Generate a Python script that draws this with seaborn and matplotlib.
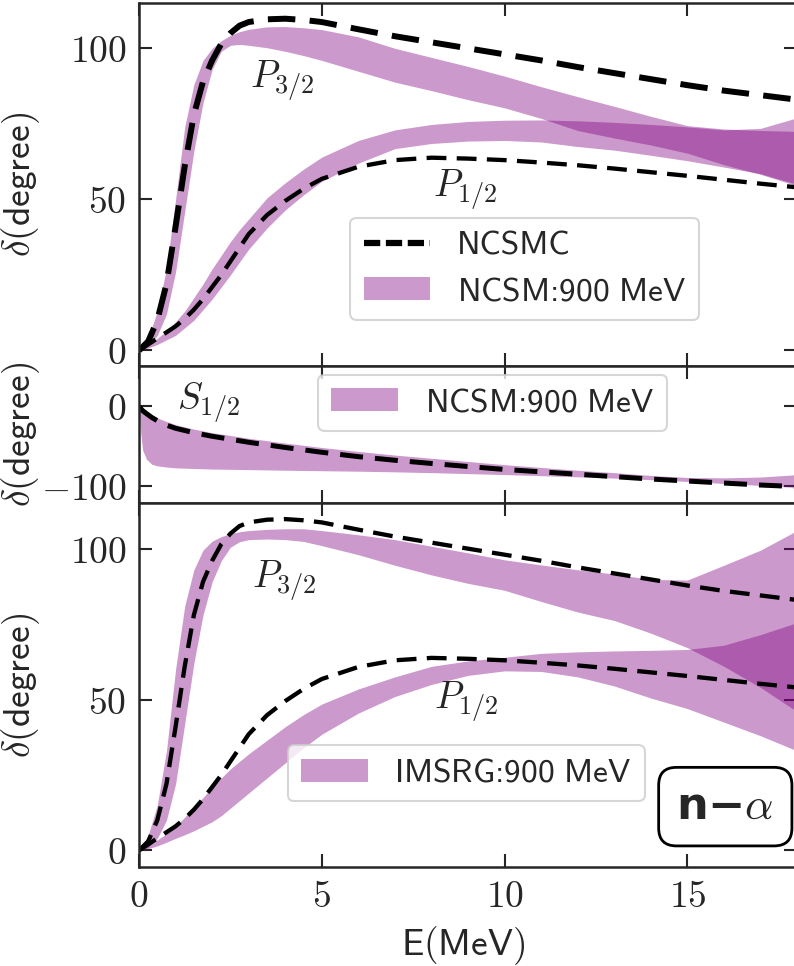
import matplotlib
matplotlib.use("Agg")
import matplotlib.pyplot as plt
import seaborn as sns
from matplotlib.gridspec import GridSpec
from matplotlib.lines import Line2D
from matplotlib.patches import Patch
from matplotlib.ticker import FuncFormatter

# energy grid (MeV) for the P-wave curves
E_p = [0, 0.25, 0.5, 0.75, 1.0, 1.25, 1.5, 1.75, 2.0, 2.25, 2.5, 2.75, 3.0, 3.5, 4, 4.5,
       5, 6, 7, 8, 9, 10, 11, 12, 13, 14, 15, 16, 17, 18]

# NCSMC phase shifts (dashed)
ncsmc_p32 = [0, 3, 10, 22, 41, 61, 78, 89, 96, 101.5, 105, 107.5, 108.7, 109.6, 109.8, 109.4,
             108.7, 106.3, 104, 102, 100, 98, 96, 93.8, 91.8, 89.8, 87.8, 86, 84.5, 83]
ncsmc_p12 = [0, 2, 4, 6, 8, 10.5, 13.5, 17, 21, 25, 29.5, 34, 38.5, 44.8, 49.5, 53.5,
             56.8, 60.8, 63, 63.8, 63.5, 63, 62.2, 61.3, 60.2, 59, 57.8, 56.5, 55.2, 54]

# NCSM 900 MeV bands (top panel)
ncsm_p32_hi = [0, 4, 13, 27, 50, 74, 88, 96, 100, 102.5, 104.3, 105.5, 106.3, 107.1, 107.2, 106.8,
               106.2, 103.8, 100, 97, 94, 90.8, 87.3, 84, 80.8, 77.5, 74.4, 73.3, 72.8, 72.5]
ncsm_p32_lo = [0, 1.5, 5, 12, 26, 46, 66, 82, 93, 99, 101, 101.3, 101, 100.2, 99, 97.6,
               96, 92.4, 88.8, 86, 83, 80.3, 76.8, 72.8, 70.3, 68, 65.3, 61.5, 58.3, 54.5]
ncsm_p12_hi = [0, 1.8, 4, 6.5, 9.5, 13, 17.5, 22, 27, 31.5, 36, 40, 43.5, 50.5, 55.5, 60,
               64, 69.5, 73, 74.8, 75.8, 76.2, 76.3, 76, 75.5, 74.8, 74, 73, 73.5, 77]
ncsm_p12_lo = [0, 0.8, 2, 3.5, 5, 7.5, 10, 13.5, 17, 21, 25, 29.3, 33.5, 40.5, 46.5, 51.5,
               56, 62, 66.8, 68.5, 69.3, 69.5, 69, 67.5, 66.3, 64.6, 62.8, 60.7, 58.5, 55]

# IMSRG 900 MeV bands (bottom panel)
imsrg_p32_hi = [0, 5, 15, 33, 60, 81, 93, 99.5, 102.5, 104, 105, 105.6, 106, 106.4, 106.6, 106.6,
                106, 104.6, 103, 100.8, 98.6, 96.3, 94.6, 93, 91.6, 89.8, 89.6, 94.5, 99.5, 106]
imsrg_p32_lo = [0, 1, 4, 10, 22, 42, 62, 78, 89, 96, 100.5, 102.3, 103, 103.2, 103, 102.4,
                101, 98, 94.5, 91.3, 88.5, 86.2, 82.5, 79, 76.2, 72, 67.2, 61, 54, 46]
imsrg_p12_hi = [0, 1.5, 3.5, 5.5, 8, 11, 14.5, 17.5, 21, 24, 27, 29.5, 32, 36.5, 41, 45,
                48.5, 53.5, 57.5, 61, 62.8, 64, 65.3, 65.8, 66.1, 66.3, 66.6, 68, 71.5, 75.5]
imsrg_p12_lo = [0, 0.6, 1.5, 2.7, 4, 5.2, 6.5, 8, 9.5, 11.5, 14, 16.5, 19, 24, 29, 34,
                38.5, 45.5, 51, 55, 58, 59.5, 59.3, 57.5, 54.5, 50.5, 47, 42.5, 38, 33]

# S-wave (middle panel)
E_s = [0, 0.05, 0.1, 0.2, 0.35, 0.5, 0.75, 1, 1.5, 2, 3, 4, 5, 6, 7, 8, 9, 10,
       11, 12, 13, 14, 15, 16, 17, 18]
ncsmc_s12 = [0, -3, -5.5, -9, -14, -18, -23.5, -27.5, -33, -37.5, -45, -51.5, -57.5, -63,
             -67.5, -71.5, -75.3, -79, -82, -85, -88, -91, -93.5, -96, -98.5, -100.5]
ncsm_s12_hi = [0, -2, -4, -7, -11, -14.5, -19, -23, -28.5, -33, -40, -46, -51.5, -56.5,
               -61, -65, -69, -73, -76.5, -80, -83, -86.5, -89, -89.5, -88.5, -85.5]
ncsm_s12_lo = [0, -35, -55, -66, -72.5, -74.5, -76, -77, -77.8, -78.5, -79.2, -80, -80.6, -81.2,
               -82, -83, -84.2, -85.4, -86.8, -88.2, -89.8, -91.8, -94, -96.5, -99, -101.5]

sns.set_style("ticks")
plt.rcParams["font.family"] = ["DejaVu Sans"]
plt.rcParams["mathtext.fontset"] = "cm"

band_kw = dict(color="purple", alpha=0.4, lw=0)
dash = (0, (4.6, 2.4))
fs = 27
leg_prop = {"family": "cmss10", "size": 24}

fig = plt.figure(figsize=(7.94, 9.66), dpi=100)
gs = GridSpec(3, 1, figure=fig, height_ratios=[363, 138, 364], hspace=0,
              left=0.1751, right=1.0038, top=0.9969, bottom=0.1025)
ax1 = fig.add_subplot(gs[0])
ax2 = fig.add_subplot(gs[1], sharex=ax1)
ax3 = fig.add_subplot(gs[2], sharex=ax1)

# top: NCSMC vs NCSM
ax1.fill_between(E_p, ncsm_p32_lo, ncsm_p32_hi, **band_kw)
ax1.fill_between(E_p, ncsm_p12_lo, ncsm_p12_hi, **band_kw)
sns.lineplot(x=E_p, y=ncsmc_p32, ax=ax1, color="black", linewidth=4.3, linestyle=dash, errorbar=None)
sns.lineplot(x=E_p, y=ncsmc_p12, ax=ax1, color="black", linewidth=3.1, linestyle=dash, errorbar=None)
ax1.text(3.04, 87, r"$P_{3/2}$", fontsize=fs, va="baseline")
ax1.text(8.05, 51, r"$P_{1/2}$", fontsize=fs, va="baseline")
h1 = [Line2D([], [], color="black", lw=4.5, ls=(0, (2.6, 0.9))), Patch(**band_kw)]
leg = ax1.legend(h1, ["NCSMC", r"NCSM:900$\ $MeV"], prop=leg_prop,
                 loc="upper left", bbox_to_anchor=(0.321, 0.408), borderaxespad=0)
leg.get_frame().set_linewidth(1.5)

# middle: S-wave
ax2.fill_between(E_s, ncsm_s12_lo, ncsm_s12_hi, **band_kw)
sns.lineplot(x=E_s, y=ncsmc_s12, ax=ax2, color="black", linewidth=3.6, linestyle=dash, errorbar=None)
ax2.text(1.04, -4, r"$S_{1/2}$", fontsize=fs, va="baseline")
leg = ax2.legend([Patch(**band_kw)], [r"NCSM:900$\ $MeV"], prop=leg_prop,
                 loc="upper left", bbox_to_anchor=(0.272, 0.935), borderaxespad=0)
leg.get_frame().set_linewidth(1.5)

# bottom: NCSMC vs IMSRG
ax3.fill_between(E_p, imsrg_p32_lo, imsrg_p32_hi, **band_kw)
ax3.fill_between(E_p, imsrg_p12_lo, imsrg_p12_hi, **band_kw)
sns.lineplot(x=E_p, y=ncsmc_p32, ax=ax3, color="black", linewidth=3.1, linestyle=dash, errorbar=None)
sns.lineplot(x=E_p, y=ncsmc_p12, ax=ax3, color="black", linewidth=3.1, linestyle=dash, errorbar=None)
ax3.text(3.08, 87, r"$P_{3/2}$", fontsize=fs, va="baseline")
ax3.text(8.06, 47, r"$P_{1/2}$", fontsize=fs, va="baseline")
leg = ax3.legend([Patch(**band_kw)], [r"IMSRG:900$\ $MeV"], prop=leg_prop,
                 loc="upper left", bbox_to_anchor=(0.226, 0.335), borderaxespad=0)
leg.get_frame().set_linewidth(1.5)
ax3.text(0.891, 0.166, "n\u2212$\\alpha$", transform=ax3.transAxes, fontsize=32,
         fontweight="bold", ha="center", va="center",
         bbox=dict(boxstyle="round,pad=0.4", fc="white", ec="black", lw=2))

fmt = FuncFormatter(lambda v, p: rf"${v:g}$")
for ax in (ax1, ax2, ax3):
    ax.set_xlim(0, 18)
    ax.set_xticks([0, 5, 10, 15])
    ax.tick_params(direction="in", top=True, right=True, length=9.5, width=1.5,
                   labelsize=fs, pad=9)
    ax.xaxis.set_major_formatter(fmt)
    ax.yaxis.set_major_formatter(fmt)
    for s in ax.spines.values():
        s.set_linewidth(1.8)
    ax.set_ylabel(r"$\delta\mathsf{(degree)}$", fontsize=fs)
    ax.yaxis.set_label_coords(-0.147, 0.5)

ax1.set_ylim(-5, 115)
ax1.set_yticks([0, 50, 100])
ax2.set_ylim(-121.5, 51)
ax2.set_yticks([-100, 0])
ax3.set_ylim(-5.5, 115)
ax3.set_yticks([0, 50, 100])
ax1.tick_params(labelbottom=False)
ax2.tick_params(labelbottom=False)
ax3.set_xlabel(r"$\mathsf{E(MeV)}$", fontsize=fs)
ax3.xaxis.set_label_coords(0.492, -0.158)

fig.savefig("out.png", dpi=100)
